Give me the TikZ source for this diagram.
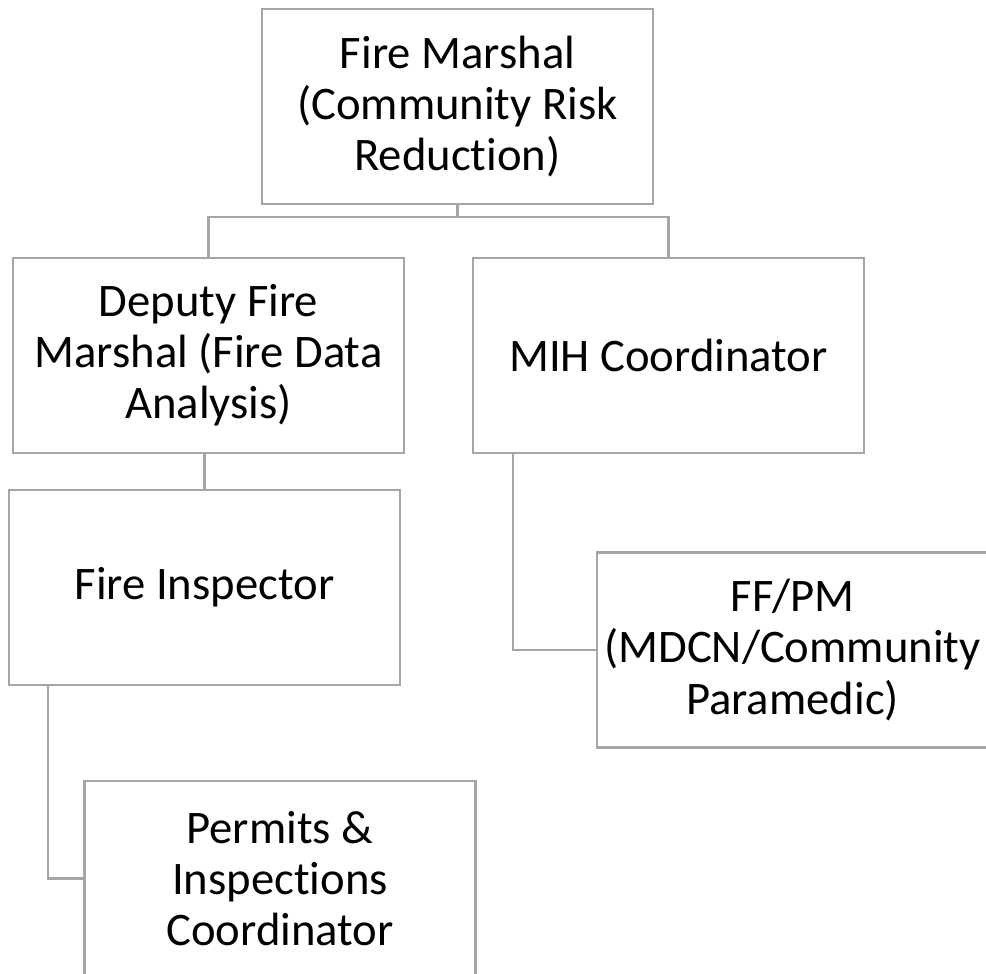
\documentclass[tikz,border=0pt]{standalone}
\usepackage{fontspec}
\setmainfont{Carlito}[RawFeature={-liga;-clig;-dlig}]
\newcommand{\nolig}{\kern0pt{}}
\definecolor{boxgray}{HTML}{A5A5A5}
\tikzset{
  role/.style={draw=boxgray, line width=1.8pt, fill=white, rectangle,
    minimum width=293.25pt, minimum height=146.25pt, inner sep=0pt,
    align=center, font=\fontsize{35}{38.4}\selectfont},
  link/.style={draw=boxgray, line width=1.8pt}
}
\begin{document}
\begin{tikzpicture}[x=0.75pt, y=-0.75pt]
  \useasboundingbox (0,0) rectangle (986,974);
  \begin{scope}
    \clip (0,0) rectangle (986,974);
    % chart boxes
    \node[role] (fm)  at (457.5,106.5) {Fire Marshal\\(Community Risk\\Reduct\nolig ion)};
    \node[role] (dep) at (208.5,355.5) {Deputy Fire\\Marshal (Fire Data\\Analysis)};
    \node[role] (mih) at (668.5,355.5) {MIH Coordinator};
    \node[role] (fi)  at (204.5,587.5) {Fire Inspector};
    \node[role] (ff)  at (792.5,650)   {FF/PM\\(MDCN/Community\\Paramedic)};
    \node[role] (pic) at (280,878.5)   {Permits \&\\Inspect\nolig ions\\Coordinator};
    % helper coordinates for the elbow connectors
    \coordinate (bar) at (0,217);
    \coordinate (fistem) at (48,0);
    \coordinate (mihstem) at (513,0);
    % connectors
    \draw[link] (fm.south) -- (fm.south |- bar) -| (dep.north);
    \draw[link] (fm.south |- bar) -| (mih.north);
    \draw[link] (fi.north) -- (fi.north |- dep.south);
    \draw[link] (fistem |- fi.south) |- (pic.west);
    \draw[link] (mihstem |- mih.south) |- (ff.west);
  \end{scope}
\end{tikzpicture}
\end{document}
